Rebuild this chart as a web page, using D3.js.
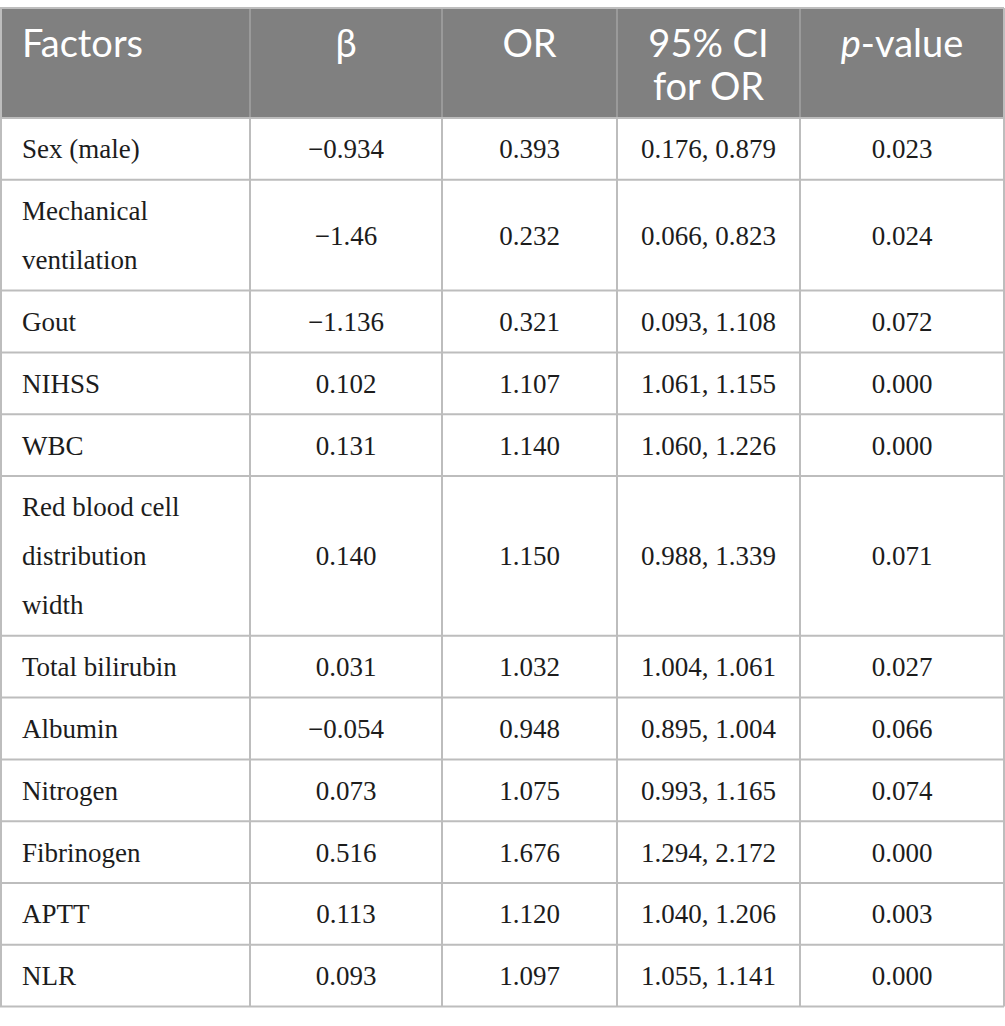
<!DOCTYPE html>
<html>
<head>
<meta charset="utf-8">
<script src="https://cdn.jsdelivr.net/npm/d3@7"></script>
<style>
  body { margin: 0; background: #fff; }
  svg text { font-kerning: normal; }
</style>
</head>
<body>
<svg id="table" width="1005" height="1026"></svg>
<script>
// Table contents
let headers = [["Factors"], ["β"], ["OR"], ["95% CI", "for OR"], ["p-value"]];
let factors = [
    ["Sex (male)"],
    ["Mechanical", "ventilation"],
    ["Gout"],
    ["NIHSS"],
    ["WBC"],
    ["Red blood cell", "distribution", "width"],
    ["Total bilirubin"],
    ["Albumin"],
    ["Nitrogen"],
    ["Fibrinogen"],
    ["APTT"],
    ["NLR"]
];
let betas = ["−0.934", "−1.46", "−1.136", "0.102", "0.131", "0.140", "0.031", "−0.054", "0.073", "0.516", "0.113", "0.093"];
let oddsRatios = ["0.393", "0.232", "0.321", "1.107", "1.140", "1.150", "1.032", "0.948", "1.075", "1.676", "1.120", "1.097"];
let confIntervals = ["0.176, 0.879", "0.066, 0.823", "0.093, 1.108", "1.061, 1.155", "1.060, 1.226", "0.988, 1.339",
    "1.004, 1.061", "0.895, 1.004", "0.993, 1.165", "1.294, 2.172", "1.040, 1.206", "1.055, 1.141"];
let pValues = ["0.023", "0.024", "0.072", "0.000", "0.000", "0.071", "0.027", "0.066", "0.074", "0.000", "0.003", "0.000"];

// layout
let svg = d3.select("#table");
let colEdges = [0, 250, 442, 617, 800, 1004];
let tableTop = 8, headerHeight = 110;
let lineGap = 49, rowPad = 12.8;
let pad = 22;
let border = "#bdbdbd";

let columns = [0, 1, 2, 3, 4];
let x = d3.scaleOrdinal().domain(columns).range(colEdges.slice(0, 5));
let colWidth = c => colEdges[c + 1] - colEdges[c];

let rows = factors.map((f, i) => ({
    cells: [f, [betas[i]], [oddsRatios[i]], [confIntervals[i]], [pValues[i]]],
    lines: f.length
}));
let heights = rows.map(r => rowPad + lineGap * r.lines);
let rowTops = [0].concat(Array.from(d3.cumsum(heights)));
let y = d3.scaleLinear().domain([0, 1]).range([tableTop + headerHeight, tableTop + headerHeight + 1]);

// header
let head = svg.append("g").attr("class", "header");
head.append("rect")
    .attr("x", 0).attr("y", tableTop)
    .attr("width", colEdges[5]).attr("height", headerHeight)
    .attr("fill", "#808080");

head.selectAll("line.sep")
    .data(colEdges.slice(1, 5)).enter()
    .append("line")
    .attr("class", "sep")
    .attr("x1", d => d).attr("x2", d => d)
    .attr("y1", tableTop).attr("y2", tableTop + headerHeight)
    .attr("stroke", "#a3a3a3").attr("stroke-width", 1.5);

let headText = head.selectAll("text")
    .data(headers).enter()
    .append("text")
    .attr("fill", "#fff")
    .style("font-family", "Lato, 'Open Sans', sans-serif")
    .style("font-size", "38px")
    .attr("text-anchor", (d, i) => i === 0 ? "start" : "middle");

headText.each(function (d, i) {
    let t = d3.select(this);
    d.forEach((line, k) => {
        let span = t.append("tspan")
            .attr("x", i === 0 ? x(i) + pad : x(i) + colWidth(i) / 2)
            .attr("y", tableTop + 49 + k * 43);
        if (line.startsWith("p-")) {
            span.append("tspan").style("font-style", "italic").text("p");
            span.append("tspan").text(line.slice(1));
        } else {
            span.text(line);
        }
    });
});

// body
let body = svg.append("g").attr("class", "body");

let rowG = body.selectAll("g.row")
    .data(rows).enter()
    .append("g")
    .attr("class", "row")
    .attr("transform", (d, i) => "translate(0," + y(rowTops[i]) + ")");

rowG.each(function (r, i) {
    let g = d3.select(this);
    let h = heights[i];
    r.cells.forEach((cell, c) => {
        let startY = h / 2 - (cell.length - 1) * lineGap / 2 + 9.5;
        let t = g.append("text")
            .attr("fill", "#1c1c1c")
            .style("font-family", "'Liberation Serif', 'Times New Roman', serif")
            .style("font-size", "27px")
            .attr("text-anchor", c === 0 ? "start" : "middle");
        cell.forEach((line, k) => {
            t.append("tspan")
                .attr("x", c === 0 ? x(c) + pad : x(c) + colWidth(c) / 2)
                .attr("y", startY + k * lineGap)
                .text(line);
        });
    });
});

// grid lines
let bodyTop = tableTop + headerHeight;
let bodyBottom = y(rowTops[rowTops.length - 1]);

body.selectAll("line.h")
    .data(rowTops).enter()
    .append("line")
    .attr("class", "h")
    .attr("x1", 0).attr("x2", colEdges[5])
    .attr("y1", d => y(d)).attr("y2", d => y(d))
    .attr("stroke", border).attr("stroke-width", 2);

body.selectAll("line.v")
    .data(colEdges).enter()
    .append("line")
    .attr("class", "v")
    .attr("x1", d => Math.max(1, d)).attr("x2", d => Math.max(1, d))
    .attr("y1", bodyTop).attr("y2", bodyBottom)
    .attr("stroke", border).attr("stroke-width", 2);

// top edge and outer header sides
svg.append("line")
    .attr("x1", 0).attr("x2", colEdges[5])
    .attr("y1", tableTop).attr("y2", tableTop)
    .attr("stroke", border).attr("stroke-width", 2);
svg.selectAll("line.side")
    .data([1, colEdges[5]]).enter()
    .append("line")
    .attr("class", "side")
    .attr("x1", d => d).attr("x2", d => d)
    .attr("y1", tableTop).attr("y2", bodyTop)
    .attr("stroke", border).attr("stroke-width", 2);
</script>
</body>
</html>
